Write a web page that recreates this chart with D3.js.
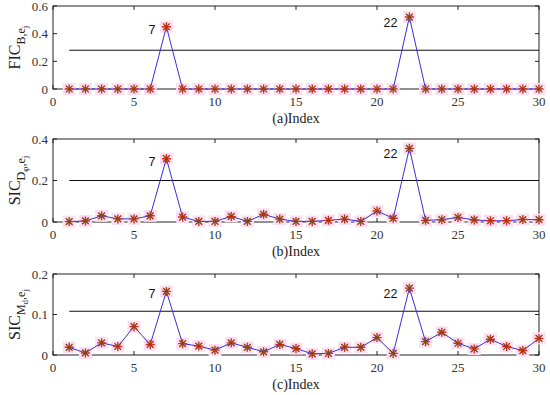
<!DOCTYPE html>
<html>
<head>
<meta charset="utf-8">
<script src="https://cdn.jsdelivr.net/npm/d3@7"></script>
<style>
  body { margin: 0; background: #fff; }
  svg text { font-family: "Liberation Serif", "Times New Roman", serif; }
</style>
</head>
<body>
<div id="chart"></div>
<script>
// index 1..30
const indexValues = d3.range(1, 31);

const ficValues = [0, 0, 0, 0, 0, 0, 0.45, 0, 0, 0, 0, 0, 0, 0, 0,
    0, 0, 0, 0, 0, 0, 0.52, 0, 0, 0, 0, 0, 0, 0, 0];
const sicDValues = [0.002, 0.005, 0.03, 0.015, 0.015, 0.03, 0.305, 0.024, 0.003, 0.003,
    0.027, 0.003, 0.037, 0.014, 0.003, 0.003, 0.008, 0.014, 0.003, 0.053,
    0.018, 0.355, 0.008, 0.011, 0.022, 0.01, 0.006, 0.006, 0.012, 0.011];
const sicMValues = [0.019, 0.005, 0.03, 0.021, 0.07, 0.026, 0.157, 0.028, 0.022, 0.012,
    0.03, 0.019, 0.008, 0.026, 0.016, 0.003, 0.004, 0.019, 0.019, 0.043,
    0.004, 0.165, 0.033, 0.056, 0.029, 0.015, 0.039, 0.021, 0.011, 0.041];

const thresholds = [0.28, 0.2, 0.108];
const yMaxes = [0.6, 0.4, 0.2];
const yTickLists = [[0, 0.2, 0.4, 0.6], [0, 0.2, 0.4], [0, 0.1, 0.2]];
const xTickList = [0, 5, 10, 15, 20, 25, 30];
const captions = ["(a)Index", "(b)Index", "(c)Index"];
const peakLabels = [7, 22];

const panels = [
    { values: ficValues, top: 6, bottom: 89, main: "FIC", sub: "B,e", subsub: "j" },
    { values: sicDValues, top: 139, bottom: 222, main: "SIC", sub: "D", subsub2: "φ", sub2: ",e", subsub: "j" },
    { values: sicMValues, top: 274, bottom: 355, main: "SIC", sub: "M", subsub2: "d", sub2: ",e", subsub: "j" }
];

const width = 550, height = 395;
const left = 53, right = 539;

const svg = d3.select("#chart").append("svg")
    .attr("width", width)
    .attr("height", height);

const x = d3.scaleLinear().domain([0, 30]).range([left, right]);

panels.forEach((p, i) => {
    const y = d3.scaleLinear().domain([0, yMaxes[i]]).range([p.bottom, p.top]);
    const g = svg.append("g");

    // box
    g.append("rect")
        .attr("x", left).attr("y", p.top)
        .attr("width", right - left).attr("height", p.bottom - p.top)
        .attr("fill", "none").attr("stroke", "#222").attr("stroke-width", 1);

    // x ticks (bottom + top, inward)
    xTickList.forEach(t => {
        g.append("line").attr("x1", x(t)).attr("x2", x(t))
            .attr("y1", p.bottom).attr("y2", p.bottom - 4).attr("stroke", "#222");
        g.append("line").attr("x1", x(t)).attr("x2", x(t))
            .attr("y1", p.top).attr("y2", p.top + 4).attr("stroke", "#222");
        g.append("text")
            .attr("x", x(t)).attr("y", p.bottom + 17)
            .attr("text-anchor", "middle")
            .style("font-size", "13px").style("fill", "#333")
            .text(t);
    });

    // y ticks (left + right, inward)
    yTickLists[i].forEach(t => {
        g.append("line").attr("x1", left).attr("x2", left + 4)
            .attr("y1", y(t)).attr("y2", y(t)).attr("stroke", "#222");
        g.append("line").attr("x1", right).attr("x2", right - 4)
            .attr("y1", y(t)).attr("y2", y(t)).attr("stroke", "#222");
        g.append("text")
            .attr("x", left - 5).attr("y", y(t) + 4.5)
            .attr("text-anchor", "end")
            .style("font-size", "13px").style("fill", "#333")
            .text(t === 0 ? "0" : d3.format(".1f")(t));
    });

    // threshold line
    g.append("line")
        .attr("x1", x(1)).attr("x2", right)
        .attr("y1", y(thresholds[i])).attr("y2", y(thresholds[i]))
        .attr("stroke", "#111").attr("stroke-width", 1.2);

    // pink halo behind markers
    g.selectAll("rect.halo")
        .data(p.values)
        .join("rect")
        .attr("class", "halo")
        .attr("x", (d, k) => x(indexValues[k]) - 6.5)
        .attr("y", d => y(d) - 6)
        .attr("width", 13).attr("height", 12)
        .attr("fill", "#fcdff2");

    // data line
    const line = d3.line()
        .x((d, k) => x(indexValues[k]))
        .y(d => y(d));
    g.append("path")
        .datum(p.values)
        .attr("d", line)
        .attr("fill", "none")
        .attr("stroke", "#3a2fd6")
        .attr("stroke-width", 1);

    // asterisk markers
    const m = g.selectAll("g.marker")
        .data(p.values)
        .join("g")
        .attr("class", "marker")
        .attr("transform", (d, k) => `translate(${x(indexValues[k])},${y(d)})`);
    const s = 4.5;
    m.append("path")
        .attr("d", `M${-s},0H${s}M0,${-s}V${s}`)
        .attr("stroke", "#e8201a").attr("stroke-width", 1.4);
    m.append("path")
        .attr("d", `M${-s * 0.75},${-s * 0.75}L${s * 0.75},${s * 0.75}M${-s * 0.75},${s * 0.75}L${s * 0.75},${-s * 0.75}`)
        .attr("stroke", "#7a4a10").attr("stroke-width", 1.4);

    // peak labels
    peakLabels.forEach(idx => {
        const v = p.values[idx - 1];
        g.append("text")
            .attr("x", x(idx) - (idx < 10 ? 11 : 12))
            .attr("y", y(v) + (idx < 10 ? 7 : 10))
            .attr("text-anchor", "end")
            .style("font-family", "'Liberation Sans', Arial, sans-serif")
            .style("font-size", "12.5px")
            .style("fill", "#111")
            .text(idx);
    });

    // caption
    g.append("text")
        .attr("x", (left + right) / 2)
        .attr("y", p.bottom + 34)
        .attr("text-anchor", "middle")
        .style("font-size", "14px").style("fill", "#222")
        .text(captions[i]);

    // y label with subscripts
    const cy = (p.top + p.bottom) / 2;
    const lab = g.append("text")
        .attr("transform", `translate(20,${cy}) rotate(-90)`)
        .attr("text-anchor", "middle")
        .style("font-size", "16px").style("fill", "#222");
    lab.append("tspan").text(p.main);
    lab.append("tspan").attr("dy", 5).style("font-size", "12px").text(p.sub);
    if (p.subsub2) {
        lab.append("tspan").attr("dy", 3).style("font-size", "9px").text(p.subsub2);
        lab.append("tspan").attr("dy", -3).style("font-size", "12px").text(p.sub2);
    }
    lab.append("tspan").attr("dy", 3).style("font-size", "9px").text(p.subsub);
});
</script>
</body>
</html>
